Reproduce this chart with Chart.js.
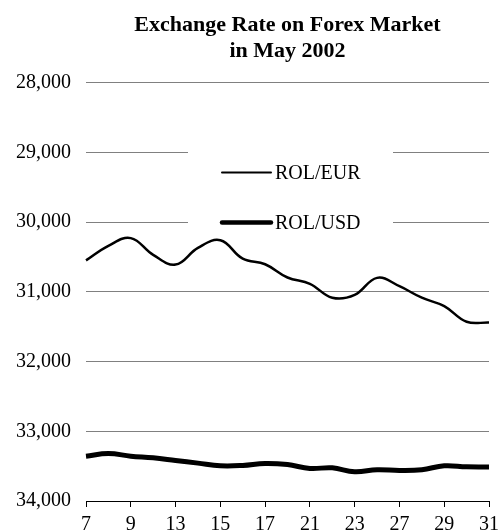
<!DOCTYPE html>
<html>
<head>
<meta charset="utf-8">
<script src="https://cdn.jsdelivr.net/npm/chart.js@4.4.1/dist/chart.umd.min.js"></script>
<style>
  html, body { margin: 0; padding: 0; background: #fff; overflow: hidden; }
  #wrap { position: relative; width: 505px; height: 543px; }
</style>
</head>
<body>
<div id="wrap"><canvas id="fxChart"></canvas></div>
<script>
// trading days of May 2002
var days = ['7', '8', '9', '10', '13', '14', '15', '16', '17', '20', '21', '22', '23', '24', '27', '28', '29', '30', '31'];
var rolEur = [30550, 30340, 30230, 30470, 30610, 30370, 30260, 30525, 30605, 30795, 30885, 31085, 31045, 30800, 30920, 31085, 31205, 31430, 31440];
var rolUsd = [33357, 33320, 33357, 33381, 33419, 33457, 33495, 33490, 33462, 33478, 33533, 33524, 33581, 33552, 33562, 33552, 33495, 33510, 33512];
var yTicks = [28000, 29000, 30000, 31000, 32000, 33000, 34000];

var serif = "'Liberation Serif', 'Times New Roman', serif";

// legend drawn inside the plot, on a white patch over the grid
var innerLegend = {
    id: 'innerLegend',
    afterDatasetsDraw: function(chart) {
        var ctx = chart.ctx;
        var area = chart.chartArea;
        var left = area.left + 102;
        var right = area.left + 307;
        ctx.save();
        ctx.fillStyle = '#fff';
        ctx.fillRect(left, area.top + 58, right - left, 94);
        ctx.font = '20px ' + serif;
        ctx.textBaseline = 'middle';
        ctx.fillStyle = '#000';
        chart.data.datasets.forEach(function(ds, i) {
            var y = area.top + 90 + i * 50;
            ctx.beginPath();
            ctx.lineWidth = ds.borderWidth - 0.5;
            ctx.lineCap = 'round';
            ctx.strokeStyle = ds.borderColor;
            ctx.moveTo(left + 34, y);
            ctx.lineTo(left + 83, y);
            ctx.stroke();
            ctx.fillText(ds.label, left + 87, y + 1);
        });
        ctx.restore();
    }
};

var ctx = document.getElementById('fxChart').getContext('2d');
var fxChart = new Chart(ctx, {
    type: 'line',
    data: {
        labels: days,
        datasets: [{
            label: 'ROL/EUR',
            data: rolEur,
            borderColor: '#000',
            borderWidth: 2.5,
            pointRadius: 0,
            tension: 0.4,
            fill: false
        }, {
            label: 'ROL/USD',
            data: rolUsd,
            borderColor: '#000',
            borderWidth: 5,
            pointRadius: 0,
            tension: 0.4,
            fill: false
        }]
    },
    options: {
        responsive: true,
        maintainAspectRatio: false,
        animation: false,
        layout: { padding: { left: 1, right: 0, top: 0, bottom: 0 } },
        plugins: {
            legend: { display: false },
            tooltip: { enabled: false },
            title: {
                display: true,
                fullSize: false,
                text: ['Exchange Rate on Forex Market', 'in May 2002'],
                color: '#000',
                font: { family: serif, size: 22, weight: 'bold', lineHeight: 1.15 },
                padding: { top: 13, bottom: 19 }
            }
        },
        scales: {
            x: {
                grid: {
                    drawOnChartArea: false,
                    drawTicks: true,
                    tickLength: 6,
                    color: function(c) { return c.index % 2 ? 'rgba(0,0,0,0)' : '#000'; }
                },
                border: { display: true, color: '#000', width: 1 },
                ticks: {
                    autoSkip: false,
                    maxRotation: 0,
                    padding: 6,
                    color: '#000',
                    font: { family: serif, size: 20 },
                    callback: function(val, i) { return i % 2 ? '' : this.getLabelForValue(val); }
                }
            },
            y: {
                reverse: true,
                min: yTicks[0],
                max: yTicks[yTicks.length - 1],
                afterBuildTicks: function(axis) {
                    axis.ticks = yTicks.map(function(v) { return { value: v }; });
                },
                grid: { color: '#808080', lineWidth: 1, drawTicks: false },
                border: { display: false },
                ticks: {
                    padding: 15,
                    color: '#000',
                    font: { family: serif, size: 20 },
                    callback: function(v) { return v.toLocaleString('en-US'); }
                }
            }
        }
    },
    plugins: [innerLegend]
});
</script>
</body>
</html>
